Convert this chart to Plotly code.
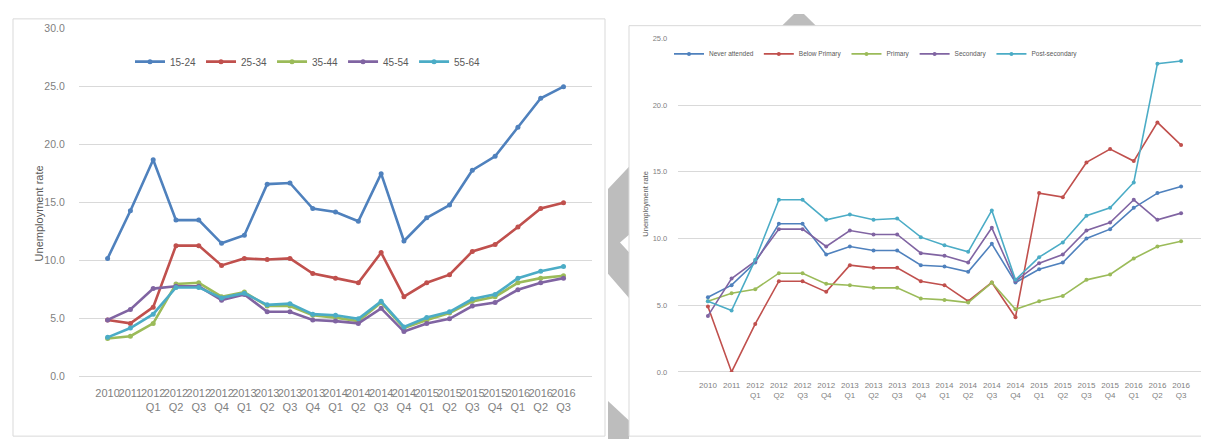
import plotly.graph_objects as go

# ---------------- data ----------------
periods = ["2010", "2011", "2012<br>Q1", "2012<br>Q2", "2012<br>Q3", "2012<br>Q4",
           "2013<br>Q1", "2013<br>Q2", "2013<br>Q3", "2013<br>Q4",
           "2014<br>Q1", "2014<br>Q2", "2014<br>Q3", "2014<br>Q4",
           "2015<br>Q1", "2015<br>Q2", "2015<br>Q3", "2015<br>Q4",
           "2016<br>Q1", "2016<br>Q2", "2016<br>Q3"]

age_names = ["15-24", "25-34", "35-44", "45-54", "55-64"]
age_15_24 = [10.2, 14.3, 18.7, 13.5, 13.5, 11.5, 12.2, 16.6, 16.7, 14.5, 14.2, 13.4, 17.5, 11.7, 13.7, 14.8, 17.8, 19.0, 21.5, 24.0, 25.0]
age_25_34 = [4.9, 4.6, 6.0, 11.3, 11.3, 9.6, 10.2, 10.1, 10.2, 8.9, 8.5, 8.1, 10.7, 6.9, 8.1, 8.8, 10.8, 11.4, 12.9, 14.5, 15.0]
age_35_44 = [3.3, 3.5, 4.6, 8.0, 8.1, 6.9, 7.3, 6.1, 6.1, 5.3, 5.1, 4.8, 6.4, 4.2, 4.9, 5.5, 6.5, 6.9, 8.1, 8.5, 8.7]
age_45_54 = [4.9, 5.8, 7.6, 7.8, 7.8, 6.6, 7.1, 5.6, 5.6, 4.9, 4.8, 4.6, 5.9, 3.9, 4.6, 5.0, 6.1, 6.4, 7.5, 8.1, 8.5]
age_55_64 = [3.4, 4.2, 5.4, 7.7, 7.7, 6.8, 7.2, 6.2, 6.3, 5.4, 5.3, 5.0, 6.5, 4.3, 5.1, 5.6, 6.7, 7.1, 8.5, 9.1, 9.5]

edu_names = ["Never attended", "Below Primary", "Primary", "Secondary", "Post-secondary"]
never_attended = [5.6, 6.5, 8.2, 11.1, 11.1, 8.8, 9.4, 9.1, 9.1, 8.0, 7.9, 7.5, 9.6, 6.7, 7.7, 8.2, 10.0, 10.7, 12.3, 13.4, 13.9]
below_primary = [4.9, 0.0, 3.6, 6.8, 6.8, 6.0, 8.0, 7.8, 7.8, 6.8, 6.5, 5.3, 6.7, 4.1, 13.4, 13.1, 15.7, 16.7, 15.8, 18.7, 17.0]
primary = [5.3, 5.9, 6.2, 7.4, 7.4, 6.6, 6.5, 6.3, 6.3, 5.5, 5.4, 5.2, 6.7, 4.7, 5.3, 5.7, 6.9, 7.3, 8.5, 9.4, 9.8]
secondary = [4.2, 7.0, 8.3, 10.7, 10.7, 9.4, 10.6, 10.3, 10.3, 8.9, 8.7, 8.2, 10.8, 6.8, 8.15, 8.8, 10.6, 11.2, 12.9, 11.4, 11.9]
post_secondary = [5.3, 4.6, 8.4, 12.9, 12.9, 11.4, 11.8, 11.4, 11.5, 10.1, 9.5, 9.0, 12.1, 6.9, 8.6, 9.7, 11.7, 12.3, 14.2, 23.1, 23.3]

left_ticks = [0, 5, 10, 15, 20, 25, 30]
right_ticks = [0, 5, 10, 15, 20, 25]
y_title = "Unemployment rate"

colors = ["#4F81BD", "#C0504D", "#9BBB59", "#8064A2", "#4BACC6"]

# ---------------- figure ----------------
W, H = 1209, 439
def px(x):
    return x / W
def py(y):
    return 1 - y / H

FONT = "Liberation Sans Narrow, Liberation Sans, Arial, sans-serif"
TICK_COL = "#7f7f7f"
GRID_COL = "#D9D9D9"
MARK_COL = "#BDBDBD"

fig = go.Figure()

for name, vals, col in zip(age_names, [age_15_24, age_25_34, age_35_44, age_45_54, age_55_64], colors):
    fig.add_trace(go.Scatter(
        x=periods, y=vals, name=name, mode="lines+markers",
        line=dict(color=col, width=2.6), marker=dict(symbol="circle", size=5, color=col),
        xaxis="x", yaxis="y", legend="legend"))

for name, vals, col in zip(edu_names, [never_attended, below_primary, primary, secondary, post_secondary], colors):
    fig.add_trace(go.Scatter(
        x=periods, y=vals, name=name, mode="lines+markers",
        line=dict(color=col, width=1.6), marker=dict(symbol="circle", size=4, color=col),
        xaxis="x2", yaxis="y2", legend="legend2"))

def poly(points):
    path = "M " + " L ".join(f"{px(x):.5f},{py(y):.5f}" for x, y in points) + " Z"
    return dict(type="path", xref="paper", yref="paper", path=path,
                fillcolor=MARK_COL, line=dict(width=0), layer="below")

fig.update_layout(
    width=W, height=H,
    margin=dict(l=0, r=0, t=0, b=0),
    paper_bgcolor="white", plot_bgcolor="white",
    font=dict(family=FONT, color=TICK_COL),
    xaxis=dict(domain=[px(70.8), px(584.3)], type="category", tickangle=0,
               showgrid=False, showline=False, ticks="", ticklabelstandoff=8,
               tickfont=dict(size=11, color=TICK_COL), anchor="y"),
    yaxis=dict(domain=[py(373), py(15)], range=[0, 30], tickvals=left_ticks, tickformat=".1f",
               showgrid=True, gridcolor=GRID_COL, gridwidth=1, zeroline=True, zerolinecolor=GRID_COL,
               zerolinewidth=1, showline=False, ticks="", ticklabelstandoff=13,
               tickfont=dict(size=10.5, color=TICK_COL), anchor="x"),
    xaxis2=dict(domain=[px(670.3), px(1202.7)], type="category", tickangle=0,
                showgrid=False, showline=False, ticks="", ticklabelstandoff=7,
                tickfont=dict(size=8, color=TICK_COL), anchor="y2"),
    yaxis2=dict(domain=[py(368), py(25)], range=[0, 25], tickvals=right_ticks, tickformat=".1f",
                showgrid=True, gridcolor=GRID_COL, gridwidth=1, zeroline=True, zerolinecolor=GRID_COL,
                zerolinewidth=1, showline=False, ticks="", ticklabelstandoff=10,
                tickfont=dict(size=7.5, color=TICK_COL), anchor="x2"),
    legend=dict(orientation="h", x=px(300), xanchor="center", y=py(49), yanchor="middle",
                font=dict(size=10, color="#595959"), bgcolor="rgba(0,0,0,0)", itemwidth=30),
    legend2=dict(orientation="h", x=px(868), xanchor="center", y=py(41), yanchor="middle",
                 font=dict(size=6.5, color="#595959"), bgcolor="rgba(0,0,0,0)", itemwidth=30),
    showlegend=True,
    annotations=[
        dict(text=y_title, textangle=-90, x=px(31), y=py(205), xref="paper", yref="paper",
             xanchor="center", yanchor="middle",
             showarrow=False, font=dict(size=11, color="#595959")),
        dict(text=y_title, textangle=-90, x=px(638), y=py(196), xref="paper", yref="paper",
             xanchor="center", yanchor="middle",
             showarrow=False, font=dict(size=7.5, color="#595959")),
    ],
    shapes=[
        dict(type="rect", xref="paper", yref="paper", x0=px(5), x1=px(597), y0=py(434), y1=py(5),
             line=dict(color=GRID_COL, width=1)),
        dict(type="rect", xref="paper", yref="paper", x0=px(621), x1=px(1208), y0=py(434), y1=py(12),
             line=dict(color=GRID_COL, width=1)),
        poly([(621, 157), (600, 180), (600, 267), (621, 292), (621, 245), (612, 235), (621, 227)]),
        poly([(600, 398), (621, 418), (621, 439), (600, 439)]),
        poly([(774, 12), (786, 0), (796, 0), (808, 12)]),
    ],
)

fig.write_html("out.html")
